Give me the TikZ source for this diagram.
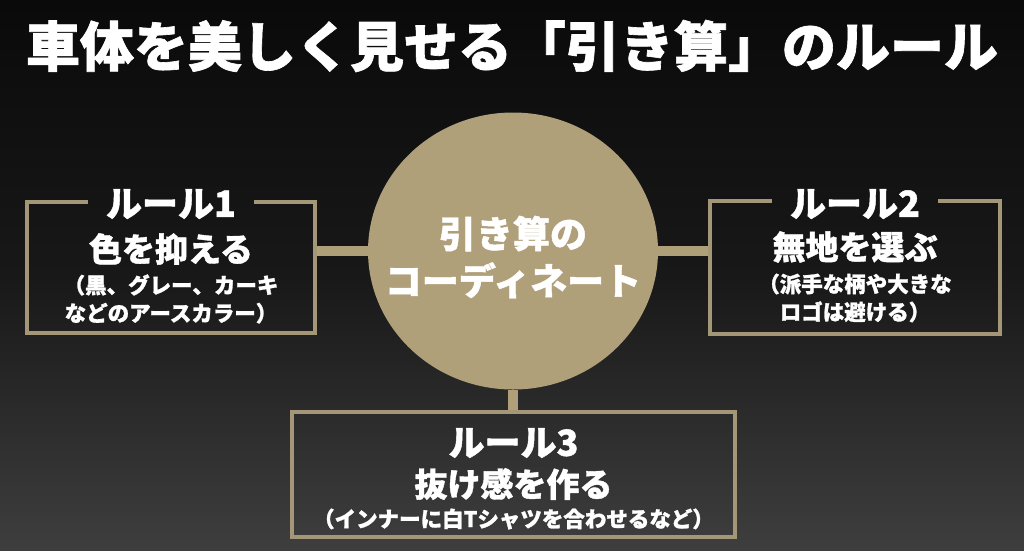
\documentclass[tikz,border=0pt]{standalone}
\usepackage{fontspec}
\usetikzlibrary{shapes.geometric}
\newfontfamily\cjk{Noto Sans CJK JP}[BoldFont={Noto Sans CJK JP Black},BoldFeatures={FakeBold=1.2}]
\definecolor{gold}{RGB}{176,160,122}
\definecolor{goldline}{RGB}{164,151,120}
\definecolor{bgtop}{RGB}{10,10,10}
\definecolor{bgmid}{RGB}{24,24,24}
\definecolor{bgbot}{RGB}{62,62,62}
\begin{document}
\begin{tikzpicture}[x=1pt,y=-1pt,
  txt/.style={text=white,font=\cjk\bfseries,align=center,inner sep=0pt},
  boxframe/.style={draw=goldline,line width=4pt},
  conn/.style={draw=gold,line width=10pt},
  rulebox/.style={draw=none,rectangle,inner sep=0pt},
  ruletitle/.style={txt,font=\cjk\bfseries\fontsize{36}{40}\selectfont,inner xsep=18pt},
  rulemain/.style={txt,font=\cjk\bfseries\fontsize{33}{38}\selectfont},
  rulesub/.style={txt,font=\cjk\bfseries\fontsize{21.5}{28}\selectfont}]
% background
\shade[top color=bgtop,bottom color=bgbot,middle color=bgmid,shading angle=0] (0,0) rectangle (1024,550);
\useasboundingbox (0,0) rectangle (1024,550);
% title
\node[txt,font=\cjk\bfseries\fontsize{54}{60}\selectfont] (title) at (512,46) {車体を美しく見せる「引き算」のルール};
% center
\node[ellipse,fill=gold,minimum width=290,minimum height=277,inner sep=0pt] (circ) at (513,251) {};
\node[txt,font=\cjk\bfseries\fontsize{37}{47}\selectfont] (ctext) at (513,257) {引き算の\\コーディネート};
% boxes
\node[rulebox,minimum width=288,minimum height=131] (b1) at (171,267.5) {};
\node[rulebox,minimum width=290,minimum height=133] (b2) at (855,267.5) {};
\node[rulebox,minimum width=443,minimum height=125] (b3) at (513.5,474.5) {};
% connectors
\draw[conn] (circ.west) -- (circ.west -| b1.east);
\draw[conn] (circ.east) -- (circ.east -| b2.west);
\draw[conn] (circ.south) -- (circ.south |- b3.north);
% box 1
\node[ruletitle] (t1) at (171,204) {ルール1};
\draw[boxframe] (t1.west |- b1.north) -- (b1.north west) -- (b1.south west) -- (b1.south east) -- (b1.north east) -- (t1.east |- b1.north);
\node[rulemain] (m1) at (171,249) {色を抑える};
\node[rulesub] (s1) at (171,299) {（黒、グレー、カーキ\\などのアースカラー）};
% box 2
\node[ruletitle] (t2) at (855,204) {ルール2};
\draw[boxframe] (t2.west |- b2.north) -- (b2.north west) -- (b2.south west) -- (b2.south east) -- (b2.north east) -- (t2.east |- b2.north);
\node[rulemain] (m2) at (855,247) {無地を選ぶ};
\node[rulesub] (s2) at (855,298) {（派手な柄や大きな\\ロゴは避ける）};
% box 3
\draw[boxframe] (b3.north west) rectangle (b3.south east);
\node[ruletitle] (t3) at (513.5,443) {ルール3};
\node[rulemain] (m3) at (513.5,484) {抜け感を作る};
\node[rulesub] (s3) at (513.5,519) {（インナーに白Tシャツを合わせるなど）};
\end{tikzpicture}
\end{document}
